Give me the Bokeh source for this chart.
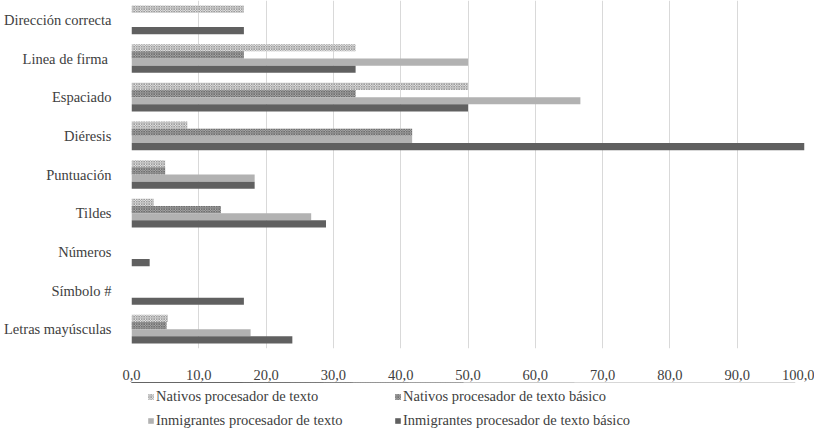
from bokeh.plotting import figure
from bokeh.layouts import column
from bokeh.models import ColumnDataSource, FixedTicker, CustomJSTickFormatter, Legend, LegendItem, Range1d
from bokeh.embed import file_html
from bokeh.resources import INLINE

categories = ["Letras mayúsculas", "Símbolo #", "Números", "Tildes", "Puntuación",
              "Diéresis", "Espaciado", "Linea de firma ", "Dirección correcta"]
nativos_pt = [5.4, 0, 0, 3.3, 5.0, 8.3, 50.0, 33.3, 16.7]
nativos_basico = [5.2, 0, 0, 13.3, 5.0, 41.7, 33.3, 16.7, 0]
inmig_pt = [17.7, 0, 0, 26.7, 18.3, 41.7, 66.7, 50.0, 0]
inmig_basico = [23.9, 16.7, 2.7, 28.9, 18.3, 100.0, 50.0, 33.3, 16.7]
series_names = ["Nativos procesador de texto", "Nativos procesador de texto básico",
                "Inmigrantes procesador de texto", "Inmigrantes procesador de texto básico"]
x_ticks = [0, 10, 20, 30, 40, 50, 60, 70, 80, 90, 100]

FONT = "Liberation Serif"
FS = "14.5px"
n = len(categories)
centers = [i + 0.5 for i in range(n)]
h = 0.185
offsets = [1.5 * h, 0.5 * h, -0.5 * h, -1.5 * h]

p = figure(output_backend="svg", toolbar_location=None,
           frame_width=673, frame_height=348,
           x_range=(0, 100), y_range=(0, n),
           min_border_left=122, min_border_right=10, min_border_top=0,
           min_border_bottom=0)
p.outline_line_color = None
p.background_fill_color = "white"

styles = [
    dict(fill_color="white", line_color=None, hatch_pattern="diagonal_cross",
         hatch_color="#9a9a9a", hatch_scale=2.5, hatch_weight=1),
    dict(fill_color="#bdbdbd", line_color=None, hatch_pattern="diagonal_cross",
         hatch_color="#6e6e6e", hatch_scale=2.5, hatch_weight=1),
    dict(fill_color="#b2b2b2", line_color=None),
    dict(fill_color="#606060", line_color=None),
]
vals = [nativos_pt, nativos_basico, inmig_pt, inmig_basico]
sources = []
for k in range(4):
    src = ColumnDataSource(dict(y=[c + offsets[k] for c in centers], right=vals[k]))
    sources.append(src)
    p.hbar(y="y", right="right", left=0, height=h, source=src, **styles[k])

p.xaxis.ticker = FixedTicker(ticks=x_ticks)
p.xaxis.formatter = CustomJSTickFormatter(code="return tick.toFixed(1).replace('.', ',');")
p.xaxis.axis_line_color = None
p.xaxis.major_tick_line_color = None
p.xaxis.minor_tick_line_color = None
p.xaxis.major_label_text_font = FONT
p.xaxis.major_label_text_font_size = FS
p.xaxis.major_label_text_color = "#404040"
p.xaxis.major_label_standoff = 15

p.yaxis.ticker = FixedTicker(ticks=centers)
p.yaxis.major_label_overrides = {c: categories[i] for i, c in enumerate(centers)}
p.yaxis.axis_line_color = None
p.yaxis.major_tick_line_color = None
p.yaxis.minor_tick_line_color = None
p.yaxis.major_label_text_font = FONT
p.yaxis.major_label_text_font_size = FS
p.yaxis.major_label_text_color = "#404040"
p.yaxis.major_label_standoff = 14

p.xgrid.ticker = FixedTicker(ticks=x_ticks)
p.xgrid.grid_line_color = "#d9d9d9"
p.xgrid.grid_line_width = 1
p.ygrid.grid_line_color = None

# legend figure below the chart (its bars lie outside its view; only the legend shows)
lf = figure(output_backend="svg", toolbar_location=None, width=805, height=47,
            x_range=Range1d(0, 100), y_range=Range1d(-30, -20),
            x_axis_location=None, y_axis_location=None,
            min_border_left=0, min_border_right=0, min_border_top=0, min_border_bottom=0)
lf.outline_line_color = None
lf.xgrid.visible = False
lf.ygrid.visible = False
dummy = []
for k in range(4):
    dummy.append(lf.hbar(y="y", right="right", left=0, height=h, source=sources[k], **styles[k]))

common = dict(orientation="horizontal", border_line_color=None, background_fill_alpha=0,
              glyph_width=7, glyph_height=7, label_standoff=2,
              label_width=238, label_height=18, spacing=0, padding=2, margin=0,
              label_text_font=FONT, label_text_font_size=FS, label_text_color="#404040")
leg1 = Legend(items=[LegendItem(label=series_names[k], renderers=[dummy[k]]) for k in (0, 1)],
              location=(16, 24), **common)
leg2 = Legend(items=[LegendItem(label=series_names[k], renderers=[dummy[k]]) for k in (2, 3)],
              location=(16, 0), **common)
lf.add_layout(leg1, "center")
lf.add_layout(leg2, "center")

layout = column(p, lf, spacing=0)
open("out.html", "w").write(file_html(layout, INLINE))
